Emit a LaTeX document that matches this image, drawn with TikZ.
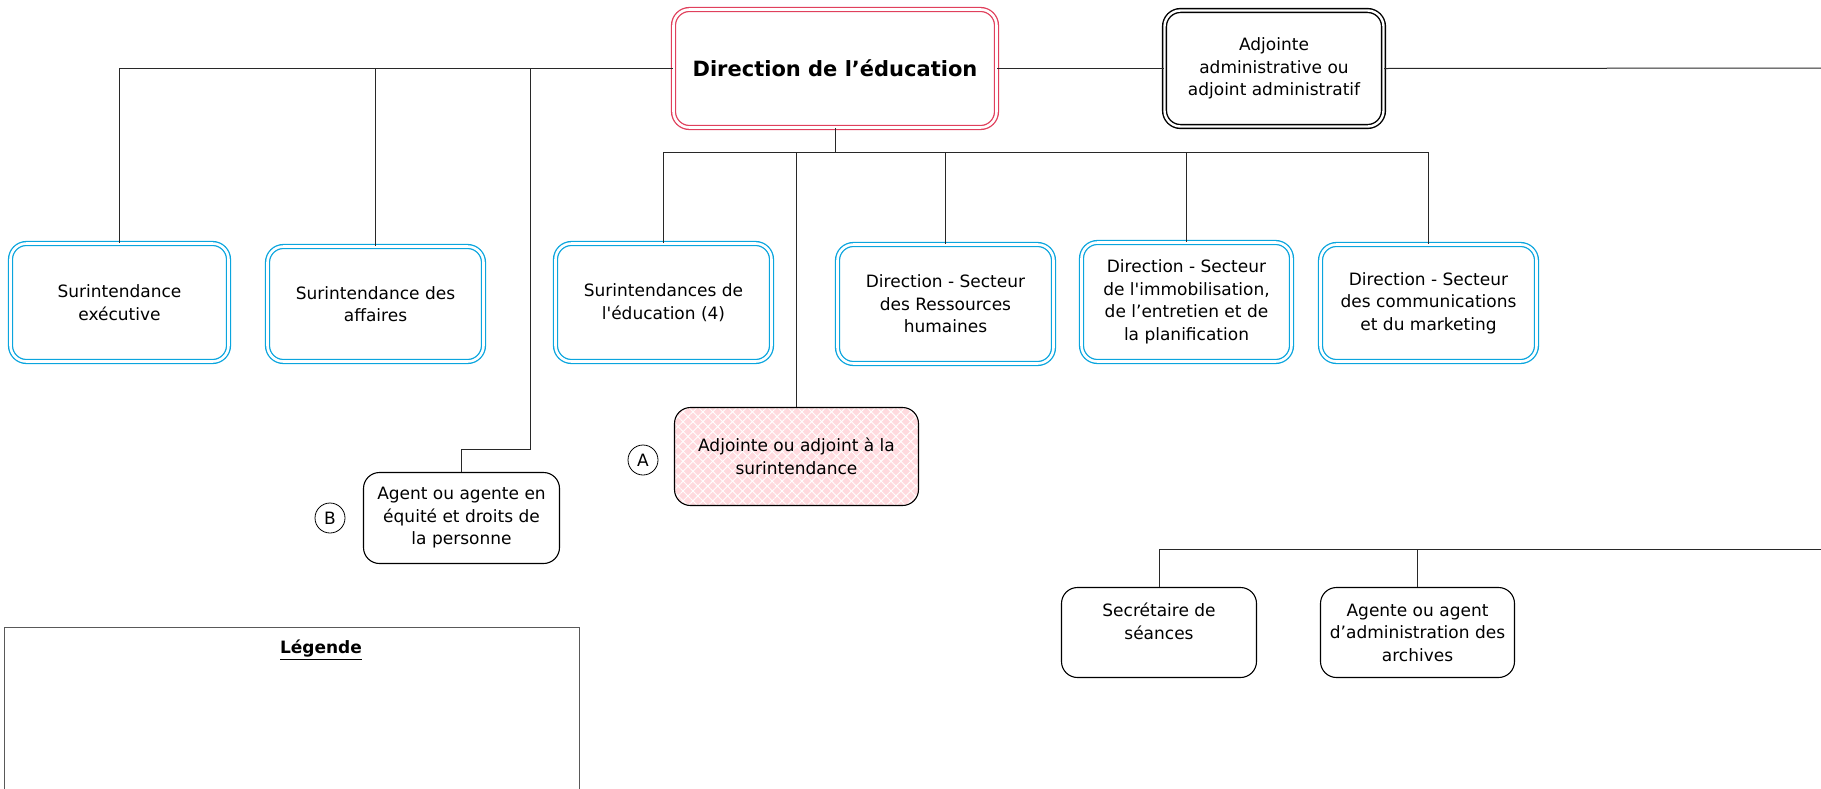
\documentclass[tikz,border=0pt]{standalone}
\usepackage{fontspec}
\setmainfont{DejaVu Sans}
\usetikzlibrary{patterns.meta}
\definecolor{dirred}{RGB}{224,64,92}
\definecolor{secblue}{RGB}{10,165,222}
\definecolor{adjpink}{RGB}{255,218,222}
\definecolor{linegray}{RGB}{40,40,40}

\begin{document}
\begin{tikzpicture}[x=1pt,y=-1pt,
	box/.style={rounded corners=16pt, align=center, inner sep=0pt, font=\fontsize{17}{22.5}\selectfont},
	blubox/.style={box, draw=secblue, double=white, double distance=2.6pt, line width=1.3pt},
	dirbox/.style={box, draw=dirred, double=white, double distance=2.6pt, line width=1.3pt},
	admbox/.style={box, draw=black, double=white, double distance=2.4pt, line width=1.4pt},
	plainbox/.style={box, draw=black, line width=1.1pt},
	conn/.style={draw=linegray, line width=1pt},
	tagcirc/.style={circle, draw=black, line width=0.8pt, minimum size=30, inner sep=0pt, font=\fontsize{17}{20}\selectfont}]
	\useasboundingbox (0,0) rectangle (1821,788);
	
	% top level
	\node[dirbox, minimum width=323, minimum height=118, font=\fontsize{21}{25}\selectfont\bfseries] (dir) at (835,68.5) {Direction de l’éducation};
	\node[admbox, minimum width=219, minimum height=116] (adm) at (1274,68.5) {Adjointe\\administrative ou\\adjoint administratif};
	
	% services
	\node[blubox, minimum width=218, minimum height=118] (sexe) at (119.5,302.5) {Surintendance\\exécutive};
	\node[blubox, minimum width=216, minimum height=115] (saff) at (375.5,304) {Surintendance des\\affaires};
	\node[blubox, minimum width=216, minimum height=118] (sedu) at (663.5,302.5) {Surintendances de\\l\textquotesingle éducation (4)};
	\node[blubox, minimum width=216, minimum height=119] (srh) at (945.5,304) {Direction - Secteur\\des Ressources\\humaines};
	\node[blubox, minimum width=210, minimum height=119] (simm) at (1186.5,302) {Direction - Secteur\\de l\textquotesingle immobilisation,\\de l’entretien et de\\la planification};
	\node[blubox, minimum width=216, minimum height=117] (scom) at (1428.5,303) {Direction - Secteur\\des communications\\et du marketing};
	
	% adjointe (A) and agent (B)
	\node[plainbox, minimum width=244, minimum height=98,
		preaction={fill=adjpink},
		preaction={pattern={Lines[angle=45,distance=7pt,line width=0.9pt]},pattern color=white},
		preaction={pattern={Lines[angle=-45,distance=7pt,line width=0.9pt]},pattern color=white}] (adjs) at (796.5,456.5) {Adjointe ou adjoint à la\\surintendance};
	\node[tagcirc] (tagA) at (643,460) {A};
	\node[plainbox, minimum width=196, minimum height=91] (agent) at (461.5,518) {Agent ou agente en\\équité et droits de\\la personne};
	\node[tagcirc] (tagB) at (330,518) {B};
	
	% bottom right
	\node[plainbox, minimum width=195, minimum height=90] (sec) at (1159,632.5) {Secrétaire de\\séances\\~};
	\node[plainbox, minimum width=194, minimum height=90] (arch) at (1417.5,632.5) {Agente ou agent\\d’administration des\\archives};
	
	% legend
	\node[draw=black!65, line width=1pt, minimum width=575, minimum height=220, anchor=north west] (leg) at (3.5,626.5) {};
	\node[font=\fontsize{17}{20}\selectfont\bfseries] (legt) at (321,650) {\underline{Légende}};
	
	% connectors
	\coordinate (rend) at (1821,68);
	\coordinate (kneeB) at (530,449);
	\coordinate (bus) at (835,152);
	\coordinate (bbus) at (1821,549);
	\draw[conn] (dir.east) -- (adm.west);
	\draw[conn] (adm.east) -- (rend);
	\draw[conn] (dir.west) -| (sexe.north);
	\draw[conn] (dir.west) -| (saff.north);
	\draw[conn] (dir.west) -| (kneeB) -| (agent.north);
	\draw[conn] (dir.south) -- (bus);
	\draw[conn] (bus) -| (sedu.north);
	\draw[conn] (bus) -| (adjs.north);
	\draw[conn] (bus) -| (srh.north);
	\draw[conn] (bus) -| (simm.north);
	\draw[conn] (bus) -| (scom.north);
	\draw[conn] (bbus) -| (sec.north);
	\draw[conn] (bbus) -| (arch.north);
\end{tikzpicture}
\end{document}
